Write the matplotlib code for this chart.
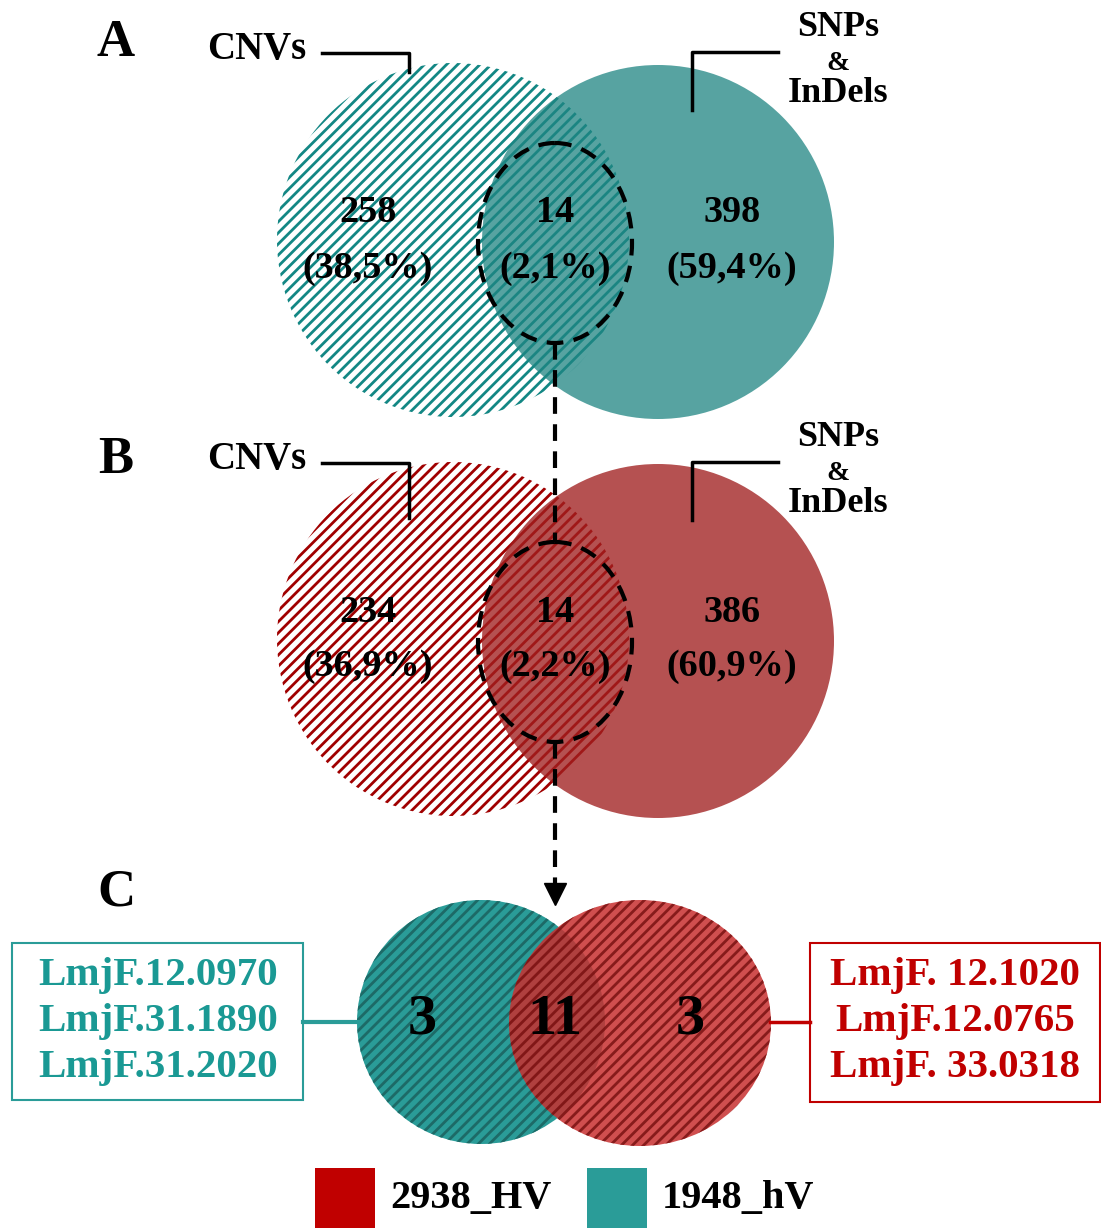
import matplotlib.pyplot as plt
from matplotlib.patches import Ellipse, Rectangle

plt.rcParams['font.family'] = ['Liberation Serif', 'DejaVu Serif']
plt.rcParams['font.weight'] = 'bold'
plt.rcParams['hatch.linewidth'] = 2.0

# counts per Venn region: CNVs only, both, SNPs & InDels only
counts_a = [258, 14, 398]
counts_b = [234, 14, 386]
# panel C: 1948_hV only, shared, 2938_HV only
counts_c = [3, 11, 3]
genes_1948 = ['LmjF.12.0970', 'LmjF.31.1890', 'LmjF.31.2020']
genes_2938 = ['LmjF. 12.1020', 'LmjF.12.0765', 'LmjF. 33.0318']
set_labels = ['CNVs', 'SNPs', '&', 'InDels']
legend_labels = ['2938_HV', '1948_hV']


def pct(counts):
    tot = sum(counts)
    return ['({:.1f}%)'.format(100 * c / tot).replace('.', ',') for c in counts]


teal = '#2a9c98'
red = '#c00000'
dash = (0, (4, 2.5))

fig = plt.figure(figsize=(11.01, 12.28), dpi=100)
ax = fig.add_axes([0, 0, 1, 1])
ax.set_xlim(0, 1101)
ax.set_ylim(1228, 0)
ax.axis('off')


def venn_panel(y0, counts, hatch_col, solid_col, solid_alpha):
    # hatched CNV set
    ax.add_patch(Ellipse((453, y0), 352, 354, facecolor='white',
                         edgecolor=hatch_col, lw=0, hatch='///', zorder=1))
    # solid SNP / InDel set
    ax.add_patch(Ellipse((658, y0 + 2), 352, 354, facecolor=solid_col,
                         edgecolor='none', alpha=solid_alpha, zorder=2))
    # dashed highlight of the shared part
    ax.add_patch(Ellipse((555, y0 + 3), 154, 200, facecolor='none',
                         edgecolor='black', lw=3, ls=dash, zorder=4))
    for x, c, p in zip([368, 555, 732], counts, pct(counts)):
        ax.text(x, y0 - 27, str(c), ha='center', va='center', fontsize=27.5, zorder=5)
        ax.text(x, y0 + 28, p, ha='center', va='center', fontsize=27.5, zorder=5)


venn_panel(240, counts_a, '#138784', '#1f8582', 0.75)
venn_panel(639, counts_b, '#a00000', '#a02020', 0.78)

# panel letters
for letter, y in zip(['A', 'B', 'C'], [43, 460, 893]):
    ax.text(116, y, letter, ha='center', va='center', fontsize=38)

# set name labels with brackets
for yt, ydrop, ys in [(50, 72, 28), (460, 518, 438)]:
    ax.text(257, yt, set_labels[0], ha='center', va='center', fontsize=28)
    ax.plot([322, 409, 409], [yt + 3, yt + 3, ydrop], color='black', lw=2.5, zorder=6)
    ax.text(838, ys, set_labels[1], ha='center', va='center', fontsize=26)
    ax.text(838, ys + 35, set_labels[2], ha='center', va='center', fontsize=20)
    ax.text(838, ys + 66, set_labels[3], ha='center', va='center', fontsize=26)
    ax.plot([778, 692, 692], [ys + 24, ys + 24, ys + 82], color='black', lw=2.5, zorder=6)

# dashed connectors between the shared regions
ax.plot([555, 555], [343, 542], color='black', lw=3, ls=dash, zorder=6)
ax.plot([555, 555], [742, 888], color='black', lw=3, ls=dash, zorder=6)
ax.plot([555], [894], marker='v', markersize=16, color='black', zorder=6)

# panel C
ax.add_patch(Ellipse((481, 1022), 248, 244, facecolor=teal,
                     edgecolor='#1d6a67', lw=0, hatch='///', zorder=1))
ax.add_patch(Ellipse((640, 1023), 262, 246, facecolor='#c83030',
                     edgecolor='#7a1212', lw=0, hatch='///', alpha=0.85, zorder=2))
for x, c in zip([422, 555, 690], counts_c):
    ax.text(x, 1020, str(c), ha='center', va='center', fontsize=42, zorder=5)

ax.add_patch(Rectangle((12, 943), 291, 157, facecolor='white', edgecolor=teal, lw=1.5))
ax.add_patch(Rectangle((810, 943), 290, 159, facecolor='white', edgecolor=red, lw=1.5))
ax.plot([303, 358], [1022, 1022], color=teal, lw=3)
ax.plot([770, 810], [1022, 1022], color=red, lw=2.5)
for i, (g1, g2) in enumerate(zip(genes_1948, genes_2938)):
    y = 975 + i * 46
    ax.text(158, y, g1, ha='center', va='center', fontsize=29.5, color='#1a9994')
    ax.text(955, y, g2, ha='center', va='center', fontsize=29.5, color=red)

# legend
for x, col, lab in zip([315, 587], [red, teal], legend_labels):
    ax.add_patch(Rectangle((x, 1168), 60, 62, facecolor=col, edgecolor='none'))
    ax.text(x + 75, 1199, lab, ha='left', va='center', fontsize=29)

fig.savefig('out.png', dpi=100)
